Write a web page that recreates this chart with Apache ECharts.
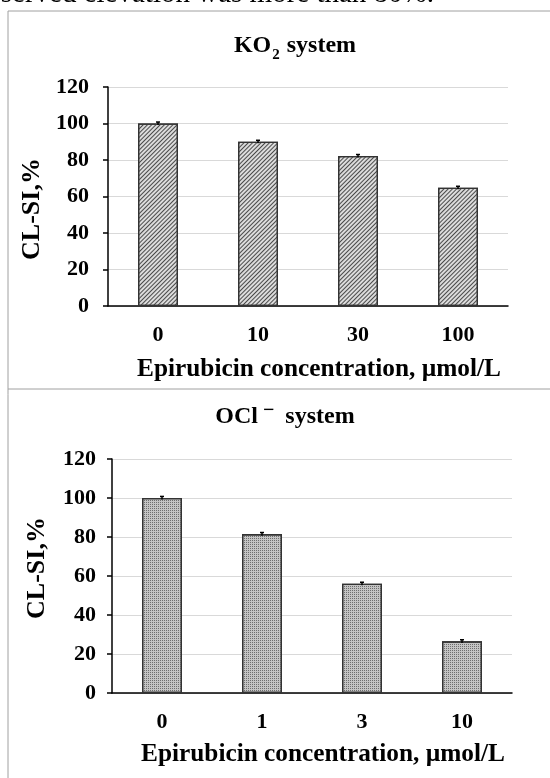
<!DOCTYPE html>
<html>
<head>
<meta charset="utf-8">
<script src="https://cdn.jsdelivr.net/npm/echarts@6/dist/echarts.min.js"></script>
<style>
html,body{margin:0;padding:0;background:#fff;}
#c{width:550px;height:778px;}
</style>
</head>
<body>
<div id="c"></div>
<script>
// ---- data ----
const koCategories = ['0', '10', '30', '100'];
const koValues = [100, 90, 82.2, 64.8];
const koErrors = [0.8, 0.8, 0.8, 0.8];

const oclCategories = ['0', '1', '3', '10'];
const oclValues = [100, 81.5, 56, 26.5];
const oclErrors = [0.8, 0.8, 0.8, 0.8];

const yTicks = { min: 0, max: 120, interval: 20 };
const xAxisName = 'Epirubicin concentration, \u00b5mol/L';
const yAxisName = 'CL-SI,%';

// ---- chart ----
const FONT = "'Liberation Serif', 'Times New Roman', serif";
const chart = echarts.init(document.getElementById('c'), null, { renderer: 'canvas' });

function yAxisCfg(gridIndex, margin, namePad) {
  return {
    type: 'value', gridIndex: gridIndex,
    min: yTicks.min, max: yTicks.max, interval: yTicks.interval,
    name: yAxisName, nameLocation: 'middle', nameGap: 62, nameRotate: 90,
    nameTextStyle: { fontFamily: FONT, fontWeight: 'bold', fontSize: 26, color: '#000', padding: namePad },
    axisLine: { show: true, lineStyle: { color: '#000', width: 1.5 } },
    axisTick: { show: true, length: 5, lineStyle: { color: '#000', width: 1.5 } },
    axisLabel: { fontFamily: FONT, fontWeight: 'bold', fontSize: 22, color: '#000', margin: margin },
    splitLine: { show: true, lineStyle: { color: '#d9d9d9', width: 1.2 } }
  };
}
function xAxisCfg(gridIndex, cats, nameGap) {
  return {
    type: 'category', gridIndex: gridIndex, data: cats,
    name: xAxisName, nameLocation: 'middle', nameGap: nameGap,
    nameTextStyle: { fontFamily: FONT, fontWeight: 'bold', fontSize: 25.3, color: '#000', padding: [0, 0, 0, 22] },
    axisLine: { show: true, lineStyle: { color: '#000', width: 1.5 } },
    axisTick: { show: false },
    axisLabel: { fontFamily: FONT, fontWeight: 'bold', fontSize: 22, color: '#000', margin: 18 }
  };
}
function errSeries(xi, yi, values, errors) {
  return {
    type: 'custom', xAxisIndex: xi, yAxisIndex: yi, z: 5,
    data: values.map((v, i) => [i, v, errors[i]]),
    renderItem: function (params, api) {
      const i = api.value(0), v = api.value(1), e = api.value(2);
      const lo = api.coord([i, v - e]);
      const hi = api.coord([i, v + e]);
      return {
        type: 'group',
        children: [
          { type: 'line', shape: { x1: lo[0], y1: lo[1], x2: hi[0], y2: hi[1] }, style: { stroke: '#000', lineWidth: 1.5 } },
          { type: 'line', shape: { x1: hi[0] - 2, y1: hi[1], x2: hi[0] + 2, y2: hi[1] }, style: { stroke: '#000', lineWidth: 1.5 } }
        ]
      };
    }
  };
}

const option = {
  backgroundColor: '#fff',
  animation: false,
  title: [
    {
      text: '{b|KO}{s|2}{b| system}',
      left: 290, top: 25, textAlign: 'center',
      textStyle: {
        rich: {
          b: { fontFamily: FONT, fontWeight: 'bold', fontSize: 24, color: '#000', lineHeight: 28, verticalAlign: 'bottom' },
          s: { fontFamily: FONT, fontWeight: 'bold', fontSize: 15, color: '#000', lineHeight: 15, verticalAlign: 'bottom', padding: [0, 1, -5, 1] }
        }
      }
    },
    {
      text: '{b|OCl}{p|\u2212}{b| system}',
      left: 280, top: 396, textAlign: 'center',
      textStyle: {
        rich: {
          b: { fontFamily: FONT, fontWeight: 'bold', fontSize: 24, color: '#000', lineHeight: 28, verticalAlign: 'bottom' },
          p: { fontFamily: FONT, fontWeight: 'bold', fontSize: 20, color: '#000', lineHeight: 20, verticalAlign: 'top', padding: [0, 5, 0, 5] }
        }
      }
    }
  ],
  grid: [
    { left: 108, top: 87, width: 400, height: 219, containLabel: false },
    { left: 112, top: 459, width: 400, height: 234, containLabel: false }
  ],
  xAxis: [xAxisCfg(0, koCategories, 51), xAxisCfg(1, oclCategories, 49)],
  yAxis: [yAxisCfg(0, 19, [0, 25, 0, 0]), yAxisCfg(1, 16, [0, 0, 0, 16])],
  series: [
    {
      type: 'bar', xAxisIndex: 0, yAxisIndex: 0, data: koValues, barWidth: '40%',
      itemStyle: {
        color: '#dcdcdc', borderColor: '#333', borderWidth: 1.3,
        decal: { symbol: 'rect', symbolSize: 1, color: '#4a4a4a', dashArrayX: [1, 0], dashArrayY: [1, 1.3], rotation: -Math.PI / 4 }
      }
    },
    errSeries(0, 0, koValues, koErrors),
    {
      type: 'bar', xAxisIndex: 1, yAxisIndex: 1, data: oclValues, barWidth: '40%',
      itemStyle: {
        color: '#c4c4c4', borderColor: '#333', borderWidth: 1.3,
        decal: { symbol: 'rect', symbolSize: 1, color: '#6e6e6e', dashArrayX: [1, 1], dashArrayY: [1, 1], rotation: 0 }
      }
    },
    errSeries(1, 1, oclValues, oclErrors)
  ],
  graphic: [
    { type: 'text', x: 434, y: 9, style: { text: 'observed elevation was more than 80%.', fontFamily: FONT, fontSize: 29, fill: '#000', align: 'right', verticalAlign: 'bottom' }, z: 1 },
    { type: 'line', shape: { x1: 8, y1: 11, x2: 550, y2: 11 }, style: { stroke: '#a0a0a0', lineWidth: 1 } },
    { type: 'line', shape: { x1: 8, y1: 11, x2: 8, y2: 778 }, style: { stroke: '#a0a0a0', lineWidth: 1 } },
    { type: 'line', shape: { x1: 8, y1: 389, x2: 550, y2: 389 }, style: { stroke: '#a0a0a0', lineWidth: 1 } }
  ]
};
chart.setOption(option);
</script>
</body>
</html>
